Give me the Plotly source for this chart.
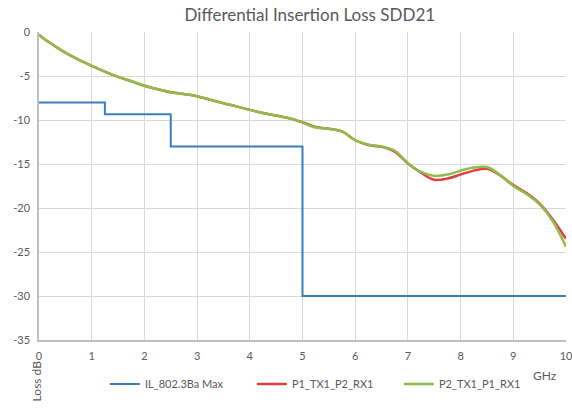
import plotly.graph_objects as go

# Limit line (IL_802.3Ba Max) – step function
limit_freq = [0, 1.25, 1.25, 2.5, 2.5, 5.0, 5.0, 10.0]
limit_loss = [-8, -8, -9.35, -9.35, -13, -13, -30, -30]

# Measured curves
freq = [0, 0.1, 0.25, 0.5, 0.75, 1.0, 1.25, 1.5, 1.75, 2.0, 2.25, 2.5, 2.75, 3.0,
        3.25, 3.5, 3.75, 4.0, 4.25, 4.5, 4.75, 5.0, 5.25, 5.5, 5.75, 6.0, 6.25,
        6.5, 6.75, 7.0, 7.25, 7.5, 7.75, 8.0, 8.25, 8.5, 8.75, 9.0, 9.25, 9.5,
        9.75, 10.0]
p1_tx1_p2_rx1 = [-0.3, -0.8, -1.4, -2.35, -3.15, -3.85, -4.5, -5.1, -5.6, -6.1,
                 -6.5, -6.85, -7.05, -7.3, -7.7, -8.1, -8.45, -8.85, -9.2, -9.5,
                 -9.8, -10.25, -10.8, -11.0, -11.3, -12.3, -12.85, -13.05, -13.6,
                 -14.95, -16.0, -16.8, -16.65, -16.2, -15.75, -15.55, -16.3, -17.4,
                 -18.3, -19.5, -21.3, -23.5]
p2_tx1_p1_rx1 = [-0.3, -0.8, -1.4, -2.35, -3.15, -3.85, -4.5, -5.1, -5.6, -6.1,
                 -6.5, -6.85, -7.05, -7.3, -7.7, -8.1, -8.45, -8.85, -9.2, -9.5,
                 -9.8, -10.3, -10.85, -11.0, -11.3, -12.3, -12.8, -13.0, -13.5,
                 -14.9, -15.9, -16.35, -16.2, -15.75, -15.4, -15.35, -16.25, -17.5,
                 -18.4, -19.6, -21.5, -24.4]

x_ticks = [0, 1, 2, 3, 4, 5, 6, 7, 8, 9, 10]
y_ticks = [0, -5, -10, -15, -20, -25, -30, -35]
y_tick_text = ["0", "-5", "-10", "-15", "-20", "-25", "-30", "-35"]

FONT = "Lato, 'Open Sans', sans-serif"
GREY = "#595959"

fig = go.Figure()
fig.add_trace(go.Scatter(x=limit_freq, y=limit_loss, mode="lines",
                         name="IL_802.3Ba Max",
                         line=dict(color="#3c7dc0", width=2)))
fig.add_trace(go.Scatter(x=freq, y=p1_tx1_p2_rx1, mode="lines",
                         name="P1_TX1_P2_RX1", line_shape="spline",
                         line=dict(color="#e0403e", width=2.5)))
fig.add_trace(go.Scatter(x=freq, y=p2_tx1_p1_rx1, mode="lines",
                         name="P2_TX1_P1_RX1", line_shape="spline",
                         line=dict(color="#8fbc4a", width=2.5)))

fig.update_layout(
    width=572, height=408,
    margin=dict(l=38.5, r=5.5, t=32, b=68, autoexpand=False),
    paper_bgcolor="white", plot_bgcolor="white",
    font=dict(family=FONT, size=11, color=GREY),
    title=dict(text="Differential Insertion Loss SDD21", x=0.514, xanchor="center",
               xref="paper", y=0.964, yref="container", yanchor="middle",
               automargin=False,
               font=dict(family=FONT, size=17, color=GREY)),
    showlegend=True,
    legend=dict(orientation="h", x=0.125, xanchor="left", y=-0.143, yanchor="middle",
                font=dict(family=FONT, size=11, color=GREY),
                entrywidth=102, entrywidthmode="pixels",
                itemwidth=30, bgcolor="rgba(0,0,0,0)"),
    xaxis=dict(range=[0, 10], tickvals=x_ticks, showgrid=True, automargin=False,
               gridcolor="#d9d9d9", gridwidth=1, zeroline=False,
               showline=True, linecolor="#bfbfbf", linewidth=1.5,
               ticks="", ticklabelstandoff=5, ticklabeloverflow="allow",
               tickfont=dict(size=11, color=GREY)),
    yaxis=dict(range=[-35, 0], tickvals=y_ticks, ticktext=y_tick_text,
               showgrid=True, gridcolor="#d9d9d9", gridwidth=1, zeroline=False,
               automargin=False, ticklabelstandoff=5, ticklabeloverflow="allow",
               showline=True, linecolor="#bfbfbf", linewidth=1.5,
               ticks="", tickfont=dict(size=11, color=GREY)),
    annotations=[
        dict(text="Loss dB", xref="paper", yref="paper", x=-0.003, y=-0.133,
             xanchor="center", yanchor="middle", textangle=-90, showarrow=False,
             font=dict(family=FONT, size=12, color=GREY)),
        dict(text="GHz", xref="paper", yref="paper", x=0.961, y=-0.114,
             xanchor="center", yanchor="middle", showarrow=False,
             font=dict(family=FONT, size=12, color=GREY)),
    ],
)

# Remove the default 8px page margin so the figure fills the window exactly
fig.write_html("out.html",
               config={"displayModeBar": False},
               post_script="document.body.style.margin='0';"
                           "document.body.style.overflow='hidden';")
